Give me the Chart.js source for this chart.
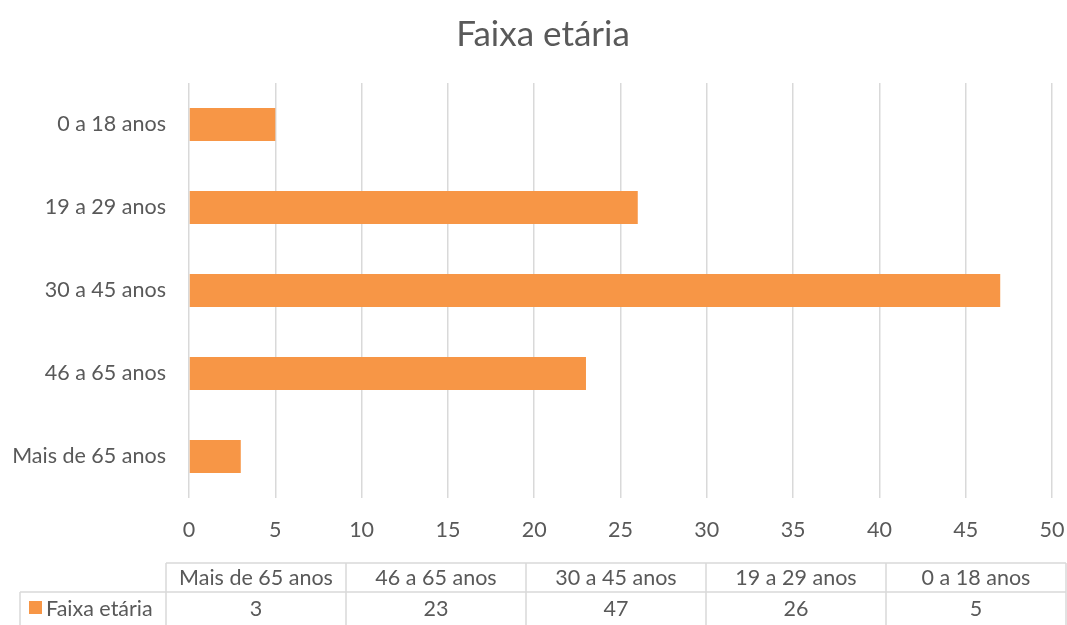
<!DOCTYPE html>
<html>
<head>
<meta charset="utf-8">
<script src="https://cdn.jsdelivr.net/npm/chart.js@4/dist/chart.umd.min.js"></script>
<style>
html,body{margin:0;padding:0;background:#fff;}
#wrap{width:1067px;height:625px;position:relative;}
</style>
</head>
<body>
<div id="wrap"><canvas id="c" width="1067" height="625"></canvas></div>
<script>
const categories = ['Mais de 65 anos', '46 a 65 anos', '30 a 45 anos', '19 a 29 anos', '0 a 18 anos'];
const values = [3, 23, 47, 26, 5];
const seriesName = 'Faixa etária';
const chartTitle = 'Faixa etária';

const FONT = 'Lato, Carlito, "Liberation Sans", sans-serif';
const TXT = '#595959';
const GRID = '#d9d9d9';
const BAR = '#F79646';
const FS = 21.5;

const titleShift = {
  id: 'titleShift',
  afterLayout(chart) {
    if (chart.titleBlock) { chart.titleBlock.left += 34; }
  }
};

const tablePlugin = {
  id: 'dataTable',
  afterDraw(chart) {
    const ctx = chart.ctx;
    const left = 166, right = 1066, seriesLeft = 20;
    const y0 = 563, y1 = 592;
    const n = categories.length;
    const w = (right - left) / n;
    ctx.save();
    ctx.strokeStyle = GRID;
    ctx.lineWidth = 1.5;
    ctx.beginPath();
    ctx.moveTo(left, y0); ctx.lineTo(right, y0);
    ctx.moveTo(seriesLeft, y1); ctx.lineTo(right, y1);
    ctx.moveTo(seriesLeft, y1); ctx.lineTo(seriesLeft, 625);
    for (let i = 0; i <= n; i++) {
      const x = left + i * w;
      ctx.moveTo(x, y0); ctx.lineTo(x, 625);
    }
    ctx.stroke();
    ctx.fillStyle = TXT;
    ctx.font = FS + 'px ' + FONT;
    ctx.textAlign = 'center';
    ctx.textBaseline = 'middle';
    for (let i = 0; i < n; i++) {
      const cx = left + (i + 0.5) * w;
      ctx.fillText(categories[i], cx, (y0 + y1) / 2 + 1);
      ctx.fillText(String(values[i]), cx, 609);
    }
    ctx.fillStyle = BAR;
    ctx.fillRect(29, 601, 13, 13);
    ctx.fillStyle = TXT;
    ctx.textAlign = 'left';
    ctx.fillText(seriesName, 46, 609);
    ctx.restore();
  }
};

new Chart(document.getElementById('c'), {
  type: 'bar',
  data: {
    labels: categories,
    datasets: [{
      label: seriesName,
      data: values,
      backgroundColor: BAR,
      borderWidth: 0,
      barPercentage: 0.4,
      categoryPercentage: 1.0
    }]
  },
  options: {
    indexAxis: 'y',
    responsive: false,
    animation: false,
    devicePixelRatio: 1,
    layout: { padding: { top: 4, right: 15, bottom: 65, left: 0 } },
    plugins: {
      legend: { display: false },
      tooltip: { enabled: false },
      title: {
        display: true,
        text: chartTitle,
        color: TXT,
        font: { family: FONT, size: 35, weight: 'normal', lineHeight: 1.2 },
        padding: { top: 10, bottom: 27 }
      }
    },
    scales: {
      x: {
        min: 0, max: 50,
        ticks: { stepSize: 5, color: TXT, font: { family: FONT, size: FS }, padding: 19 },
        grid: { color: GRID, lineWidth: 1.5, drawTicks: false },
        border: { display: false },
        afterFit(s) { s.height = 62; s.paddingRight = 0; s.paddingLeft = 0; }
      },
      y: {
        reverse: true,
        ticks: { color: TXT, font: { family: FONT, size: FS }, padding: 23 },
        grid: { display: false, drawTicks: false },
        border: { display: false },
        afterFit(s) { s.width = 189; s.paddingTop = 0; s.paddingBottom = 0; }
      }
    }
  },
  plugins: [titleShift, tablePlugin]
});
</script>
</body>
</html>
